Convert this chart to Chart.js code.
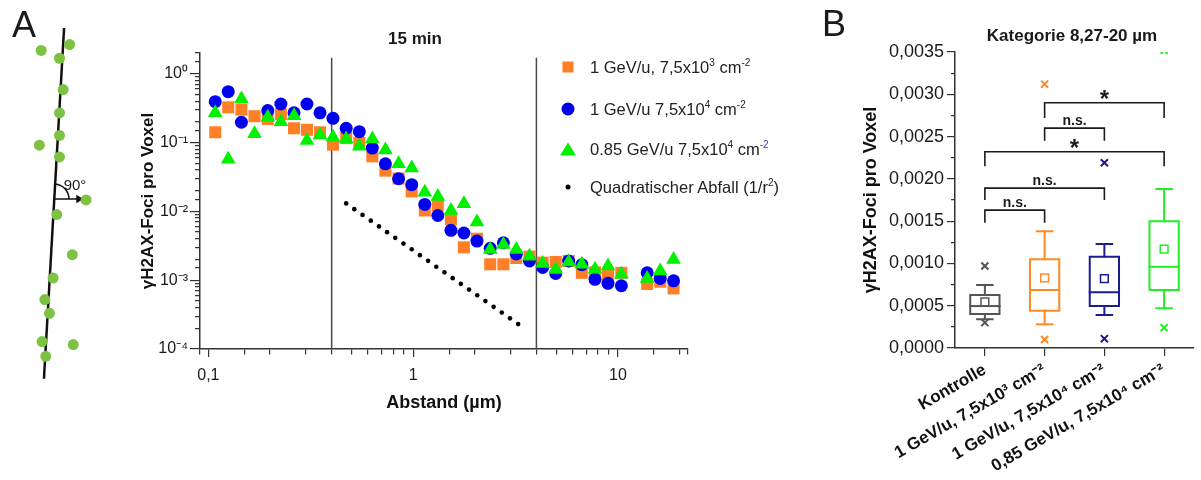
<!DOCTYPE html>
<html lang="de">
<head>
<meta charset="utf-8">
<title>γH2AX-Foci pro Voxel</title>
<script src="https://cdn.jsdelivr.net/npm/chart.js@4.4.1/dist/chart.umd.min.js"></script>
<style>
  html, body { margin: 0; background: #fff; }
  body { font-family: "Liberation Sans", Arial, sans-serif; color: #1a1a1a; }
  .fig { position: relative; width: 1201px; height: 480px; overflow: hidden; }
  canvas { position: absolute; top: 0; }
  .lbl { position: absolute; line-height: 1; white-space: nowrap; transform: translate(-50%, -50%); }
  .panel { position: absolute; font-size: 36px; line-height: 1; }
  .head { font-size: 17px; font-weight: bold; }
  .legend { position: absolute; left: 560px; top: 0; }
  .legend .row { position: absolute; left: 0; width: 240px; height: 24px; font-size: 16.5px; line-height: 24px; white-space: nowrap; }
  .legend .mark { position: absolute; left: 8px; top: 12px; transform: translate(-50%, -50%); }
  .legend .txt { position: absolute; left: 30px; top: 0; color: #222; }
  sup { font-size: 10px; vertical-align: 7px; line-height: 0; }
</style>
</head>
<body>
<div class="fig">
  <canvas id="schema" style="left:0px"></canvas>
  <canvas id="decay" style="left:130px"></canvas>
  <canvas id="boxes" style="left:820px"></canvas>

  <div class="panel" style="left:12px; top:7px">A</div>
  <div class="panel" style="left:822px; top:6px">B</div>
  <div class="lbl" style="left:75px; top:184px; font-size:15px">90°</div>
  <div class="lbl head" style="left:415px; top:38px">15 min</div>
  <div class="lbl head" style="left:1072px; top:35px">Kategorie 8,27-20 µm</div>
  <div class="legend" id="legend"></div>
</div>

<script>
const FONT = '"Liberation Sans", Arial, sans-serif';
Chart.defaults.font.family = FONT;
Chart.defaults.color = '#1a1a1a';
Chart.defaults.animation = false;

// ---------- A: Schema (Einheiten = Pixel des Panels) ----------
const fiberX = [64, 42];
const fiberY = [23, 382];
const fociX = [39, 70, 59, 63, 59, 59, 37, 59, 56, 88, 73, 52, 43, 48, 40, 74, 44];
const fociY = [46, 40, 54, 86, 110, 133, 143, 155, 214, 199, 255, 279, 301, 315, 344, 347, 359];
const arrowX = [53, 79];
const arrowY = [198, 198];

// ---------- 15 min ----------
const distance = [0.108, 0.125, 0.145, 0.168, 0.195, 0.226, 0.262, 0.303, 0.351, 0.406,
  0.471, 0.546, 0.632, 0.732, 0.849, 0.984, 1.14, 1.32, 1.53, 1.77,
  2.05, 2.38, 2.76, 3.19, 3.70, 4.29, 4.97, 5.75, 6.67, 7.73,
  8.95, 10.4, 13.9, 16.1, 18.7];
const foci1e3 = [0.141, 0.325, 0.30, 0.241, 0.22, 0.26, 0.161, 0.153, 0.141, 0.093,
  0.116, 0.099, 0.063, 0.039, 0.030, 0.0195, 0.0103, 0.0122, 0.0077, 0.0030,
  0.0040, 0.0017, 0.0017, 0.0021, 0.0022, 0.0018, 0.00184, 0.0019, 0.00128, 0.0013,
  0.00121, 0.00128, 0.00088, 0.00095, 0.00076];
const foci1e4 = [0.393, 0.548, 0.197, null, 0.291, 0.363, 0.27, 0.363, 0.27, 0.225,
  0.161, 0.144, 0.083, 0.049, 0.0298, 0.0244, 0.0126, 0.0087, 0.0053, 0.00485,
  0.0037, 0.0029, 0.0035, 0.0024, 0.0019, 0.00153, 0.00125, 0.0019, 0.00168, 0.00103,
  0.00090, 0.00083, 0.00128, 0.00106, 0.00098];
const foci085 = [0.27, 0.057, 0.43, 0.134, 0.233, 0.20, 0.246, 0.107, 0.129, 0.119,
  0.113, 0.088, 0.113, 0.078, 0.049, 0.0425, 0.019, 0.0165, 0.0103, 0.0129,
  0.0070, 0.0028, 0.0033, 0.0028, 0.00223, 0.00175, 0.00143, 0.00184, 0.0017, 0.00144,
  0.00161, 0.00122, 0.00106, 0.00136, 0.0020];
const quadX = [0.471, 0.516, 0.566, 0.621, 0.681, 0.746, 0.818, 0.897, 0.984, 1.079, 1.183,
  1.297, 1.422, 1.560, 1.710, 1.875, 2.056, 2.254, 2.472, 2.710, 2.972, 3.258];
const quadY = [0.01306, 0.01077, 0.00889, 0.00733, 0.00605, 0.00499, 0.00412, 0.00340, 0.00281, 0.00231, 0.00191,
  0.00157, 0.00130, 0.00107, 0.000885, 0.000730, 0.000603, 0.000497, 0.000410, 0.000338, 0.000279, 0.000230];
const regionBounds = [0.4, 4];
const xTickValues = [0.1, 1, 10];
const xTickLabels = ['0,1', '1', '10'];
const yTickValues = [1, 0.1, 0.01, 0.001, 0.0001];
const yTickLabels = ['10⁰', '10⁻¹', '10⁻²', '10⁻³', '10⁻⁴'];
const seriesColors = ['#ff7f27', '#0000f0', '#00f000', '#000000'];
const seriesNames = ['1 GeV/u, 7,5x10³ cm⁻²', '1 GeV/u 7,5x10⁴ cm⁻²', '0.85 GeV/u 7,5x10⁴ cm⁻²', 'Quadratischer Abfall (1/r²)'];
const seriesHtml = [
  '1 GeV/u, 7,5x10<sup>3</sup> cm<sup>-2</sup>',
  '1 GeV/u 7,5x10<sup>4</sup> cm<sup>-2</sup>',
  '0.85 GeV/u 7,5x10<sup>4</sup> cm<sup style="color:#3a3ac0">-2</sup>',
  'Quadratischer Abfall (1/r<sup>2</sup>)'
];

// ---------- B: Kategorie 8,27-20 µm ----------
const groups = ['Kontrolle', '1 GeV/u, 7,5x10³ cm⁻²', '1 GeV/u, 7,5x10⁴ cm⁻²', '0,85 GeV/u, 7,5x10⁴ cm⁻²'];
const groupColors = ['#555555', '#ff8a24', '#1c1c90', '#22ee22'];
const whiskerLow = [0.00034, 0.00028, 0.00039, 0.00047];
const q1 = [0.000402, 0.00044, 0.000496, 0.000686];
const median = [0.000496, 0.000686, 0.00066, 0.00096];
const q3 = [0.000626, 0.00105, 0.00108, 0.0015];
const whiskerHigh = [0.000745, 0.00138, 0.00123, 0.00188];
const mean = [0.000544, 0.00083, 0.00082, 0.00117];
const outlierHigh = [0.00097, 0.00312, 0.00219, 0.00352];
const outlierLow = [0.00030, 0.00010, 0.00011, 0.00024];
const bracketFrom = [1, 1, 1, 2, 2];
const bracketTo = [2, 3, 4, 3, 4];
const bracketTop = [0.00163, 0.00189, 0.00232, 0.0026, 0.0029];
const bracketLeg = [0.00149, 0.00176, 0.00216, 0.00246, 0.00273];
const bracketText = ['n.s.', 'n.s.', '*', 'n.s.', '*'];
const boxTickValues = [0, 0.0005, 0.001, 0.0015, 0.002, 0.0025, 0.003, 0.0035];
const boxTickLabels = ['0,0000', '0,0005', '0,0010', '0,0015', '0,0020', '0,0025', '0,0030', '0,0035'];

// ---------- Legende (HTML) ----------
const legendRowsY = [67, 109, 149, 187];
const markers = [
  'width:11px;height:11px;background:' + seriesColors[0],
  'width:13px;height:13px;border-radius:50%;background:' + seriesColors[1],
  'width:0;height:0;border-left:8px solid transparent;border-right:8px solid transparent;border-bottom:13px solid ' + seriesColors[2],
  'width:5px;height:5px;border-radius:50%;background:' + seriesColors[3]
];
document.getElementById('legend').innerHTML = seriesHtml.map((h, i) =>
  `<div class="row" style="top:${legendRowsY[i] - 12}px"><div class="mark" style="${markers[i]}"></div><div class="txt">${h}</div></div>`
).join('');

function setSize(id, w, h) {
  const c = document.getElementById(id);
  c.width = w; c.height = h;
  c.style.width = w + 'px'; c.style.height = h + 'px';
  return c;
}

// ---------- A ----------
const anglePlugin = {
  id: 'angleArc',
  afterDatasetsDraw(chart) {
    const { ctx, scales: { x, y } } = chart;
    const cx = x.getPixelForValue(arrowX[0]);
    const cy = y.getPixelForValue(arrowY[0]);
    const up = Math.atan2(y.getPixelForValue(fiberY[0]) - y.getPixelForValue(fiberY[1]),
                          x.getPixelForValue(fiberX[0]) - x.getPixelForValue(fiberX[1]));
    ctx.save();
    ctx.strokeStyle = '#111';
    ctx.lineWidth = 1.5;
    ctx.beginPath();
    ctx.arc(cx, cy, 15, up, 0);
    ctx.stroke();
    ctx.restore();
  }
};

new Chart(setSize('schema', 130, 480), {
  type: 'scatter',
  data: {
    datasets: [
      { data: fociX.map((x, i) => ({ x, y: fociY[i] })), pointRadius: 5.5, backgroundColor: '#7dc243', borderWidth: 0, order: 0 },
      { data: fiberX.map((x, i) => ({ x, y: fiberY[i] })), showLine: true, borderColor: '#111', borderWidth: 2.5, pointRadius: 0, order: 2 },
      { data: arrowX.map((x, i) => ({ x, y: arrowY[i] })), showLine: true, borderColor: '#111', borderWidth: 1.5, pointRadius: 0, order: 1 },
      { data: [{ x: arrowX[1] + 1, y: arrowY[1] }], pointStyle: 'triangle', rotation: 90, pointRadius: 5, backgroundColor: '#111', borderWidth: 0, order: 1 }
    ]
  },
  options: {
    responsive: false,
    events: [],
    layout: { padding: 0 },
    plugins: { legend: { display: false }, tooltip: { enabled: false } },
    scales: {
      x: { display: false, min: 0, max: 130 },
      y: { display: false, min: 0, max: 480, reverse: true }
    }
  },
  plugins: [anglePlugin]
});

// ---------- 15 min ----------
const isDecade = (v) => Math.abs(Math.log10(v) - Math.round(Math.log10(v))) < 1e-9;
// bottom ticks are drawn from the axis outwards, left ticks from the outside in
const minorDashX = (ctx) => (ctx.tick && isDecade(ctx.tick.value)) ? [] : [5, 100];
const minorDashY = (ctx) => (ctx.tick && isDecade(ctx.tick.value)) ? [] : [0, 5, 5, 100];
const findLabel = (vals, labels, v) => {
  const i = vals.findIndex((t) => Math.abs(t - v) < t * 1e-6);
  return i >= 0 ? labels[i] : '';
};
const series = [foci1e3, foci1e4, foci085];
const shapes = ['rect', 'circle', 'triangle'];
const radii = [8.5, 6.5, 8.5];
const drawOrder = [3, 2, 1];

new Chart(setSize('decay', 690, 430), {
  type: 'scatter',
  data: {
    datasets: [
      ...series.map((vals, s) => ({
        label: seriesNames[s],
        data: distance.map((x, i) => ({ x, y: vals[i] })).filter((p) => p.y !== null),
        pointStyle: shapes[s],
        pointRadius: radii[s],
        backgroundColor: seriesColors[s],
        borderWidth: 0,
        order: drawOrder[s]
      })),
      {
        label: seriesNames[3],
        data: quadX.map((x, i) => ({ x, y: quadY[i] })),
        pointRadius: 2.3,
        backgroundColor: '#000',
        borderWidth: 0,
        order: 0
      },
      ...regionBounds.map((b) => ({
        data: [{ x: b, y: 0.0001 }, { x: b, y: 1.7 }],
        showLine: true,
        borderColor: '#4a4a4a',
        borderWidth: 1.5,
        pointRadius: 0,
        order: 10
      }))
    ]
  },
  options: {
    responsive: false,
    events: [],
    layout: { padding: { left: 0, top: 53, right: 132, bottom: 0 } },
    plugins: { legend: { display: false }, tooltip: { enabled: false } },
    scales: {
      x: {
        type: 'logarithmic', min: 0.091, max: 22,
        border: { color: '#333', width: 1.5 },
        grid: { drawOnChartArea: false, tickLength: 8, color: '#333', lineWidth: 1.2, tickBorderDash: minorDashX },
        ticks: {
          autoSkip: false, maxRotation: 0, padding: 9, font: { size: 16 }, color: '#1a1a1a',
          callback: (v) => findLabel(xTickValues, xTickLabels, v)
        },
        title: { display: true, text: 'Abstand (µm)', font: { size: 18, weight: 'bold' }, color: '#111', padding: { top: 4, bottom: 16 } },
        afterFit: (s) => { s.height = 81; }
      },
      y: {
        type: 'logarithmic', min: 0.0001, max: 2,
        border: { color: '#333', width: 1.5 },
        grid: { drawOnChartArea: false, tickLength: 10, color: '#333', lineWidth: 1.2, tickBorderDash: minorDashY },
        ticks: {
          autoSkip: false, padding: 2, font: { size: 16 }, color: '#1a1a1a',
          callback: (v) => findLabel(yTickValues, yTickLabels, v)
        },
        title: { display: true, text: 'γH2AX-Foci pro Voxel', font: { size: 17, weight: 'bold' }, color: '#111', padding: { top: 8, bottom: 0 } },
        afterFit: (s) => { s.width = 70; }
      }
    }
  }
});

// ---------- B ----------
const boxHalf = 0.245;
const capHalf = 0.13;
const boxDatasets = [];
const seg = (pts, color, width) => boxDatasets.push({
  data: pts, showLine: true, borderColor: color, borderWidth: width, pointRadius: 0,
  borderJoinStyle: 'miter', borderCapStyle: 'square', order: 2
});
groups.forEach((g, i) => {
  const x = i + 1;
  const c = groupColors[i];
  seg([{ x: x - boxHalf, y: q1[i] }, { x: x + boxHalf, y: q1[i] }, { x: x + boxHalf, y: q3[i] },
       { x: x - boxHalf, y: q3[i] }, { x: x - boxHalf, y: q1[i] }], c, 2);
  seg([{ x: x - boxHalf, y: median[i] }, { x: x + boxHalf, y: median[i] }], c, 2);
  seg([{ x, y: q3[i] }, { x, y: whiskerHigh[i] }], c, 2);
  seg([{ x, y: q1[i] }, { x, y: whiskerLow[i] }], c, 2);
  seg([{ x: x - capHalf, y: whiskerHigh[i] }, { x: x + capHalf, y: whiskerHigh[i] }], c, 2);
  seg([{ x: x - capHalf, y: whiskerLow[i] }, { x: x + capHalf, y: whiskerLow[i] }], c, 2);
});
bracketFrom.forEach((a, k) => {
  const b = bracketTo[k];
  seg([{ x: a, y: bracketLeg[k] }, { x: a, y: bracketTop[k] }, { x: b, y: bracketTop[k] }, { x: b, y: bracketLeg[k] }], '#1a1a1a', 1.6);
});
boxDatasets.push({
  data: mean.map((y, i) => ({ x: i + 1, y })),
  pointStyle: 'rect', pointRadius: 5.5, backgroundColor: 'rgba(255,255,255,0)',
  borderColor: groupColors, borderWidth: 1.5, order: 1
});
boxDatasets.push({
  data: [...outlierHigh.map((y, i) => ({ x: i + 1, y })), ...outlierLow.map((y, i) => ({ x: i + 1, y }))],
  pointStyle: 'crossRot', pointRadius: 5, borderWidth: 2,
  borderColor: [...groupColors, ...groupColors], clip: 0, order: 1
});

const bracketLabelPlugin = {
  id: 'bracketLabels',
  afterDatasetsDraw(chart) {
    const { ctx, scales: { x, y } } = chart;
    ctx.save();
    ctx.fillStyle = '#1a1a1a';
    ctx.textAlign = 'center';
    ctx.textBaseline = 'alphabetic';
    bracketText.forEach((txt, k) => {
      const px = x.getPixelForValue((bracketFrom[k] + bracketTo[k]) / 2);
      const py = y.getPixelForValue(bracketTop[k]);
      if (txt === '*') {
        ctx.font = 'bold 24px ' + FONT;
        ctx.fillText(txt, px, py + 4);
      } else {
        ctx.font = 'bold 14px ' + FONT;
        ctx.fillText(txt, px, py - 3);
      }
    });
    ctx.restore();
  }
};

const boxTicks = boxTickValues.flatMap((v, i) =>
  i < boxTickValues.length - 1 ? [v, (v + boxTickValues[i + 1]) / 2] : [v]);

new Chart(setSize('boxes', 381, 480), {
  type: 'scatter',
  data: { datasets: boxDatasets },
  options: {
    responsive: false,
    events: [],
    layout: { padding: { left: 36, top: 52, right: 1, bottom: 0 } },
    plugins: { legend: { display: false }, tooltip: { enabled: false } },
    scales: {
      x: {
        type: 'linear', min: 0.5, max: 4.5,
        afterBuildTicks: (s) => { s.ticks = groups.map((g, i) => ({ value: i + 1 })); },
        border: { color: '#333', width: 1.5 },
        grid: { drawOnChartArea: false, tickLength: 8, color: '#333', lineWidth: 1.2 },
        ticks: {
          autoSkip: false, minRotation: 30, maxRotation: 30, padding: 4,
          font: { size: 17, weight: 'bold' }, color: '#111',
          callback: (v) => groups[Math.round(v) - 1] ?? ''
        },
        afterFit: (s) => { s.height = 132; }
      },
      y: {
        type: 'linear', min: 0, max: 0.0035,
        afterBuildTicks: (s) => { s.ticks = boxTicks.map((v) => ({ value: v })); },
        border: { color: '#333', width: 1.5 },
        grid: {
          drawOnChartArea: false, tickLength: 8, color: '#333', lineWidth: 1.2,
          tickBorderDash: (ctx) => (ctx.index % 2 ? [0, 4, 4, 100] : [])
        },
        ticks: {
          autoSkip: false, padding: 3, font: { size: 18 }, color: '#1a1a1a',
          callback: (v, i) => (i % 2 === 0 ? boxTickLabels[i / 2] : '')
        },
        title: { display: true, text: 'γH2AX-Foci pro Voxel', font: { size: 18, weight: 'bold' }, color: '#111', padding: { top: 4, bottom: 0 } },
        afterFit: (s) => { s.width = 99; }
      }
    }
  },
  plugins: [bracketLabelPlugin]
});
</script>
</body>
</html>
